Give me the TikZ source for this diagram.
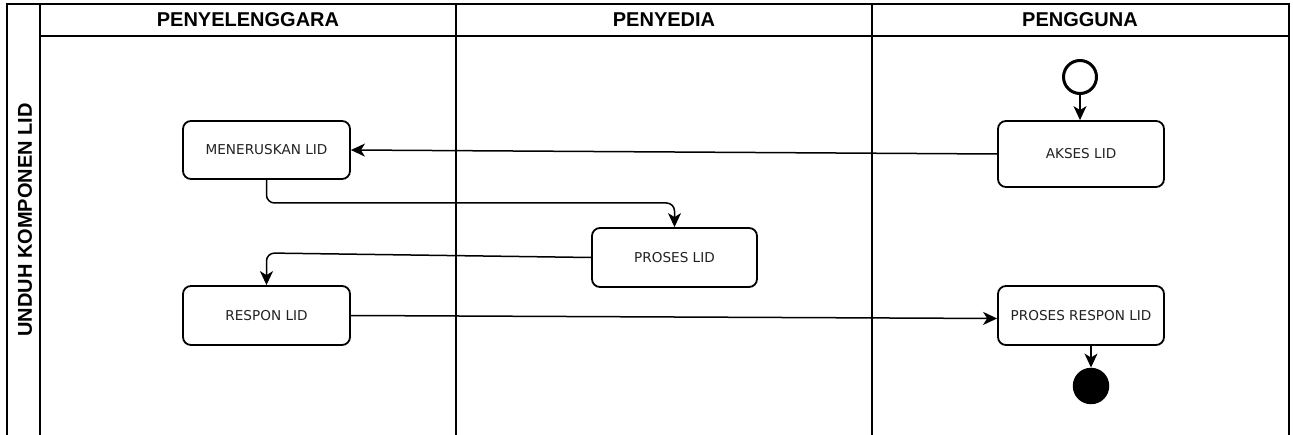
\documentclass[tikz,border=0pt]{standalone}
\usepackage{fontspec}
\setmainfont{Liberation Sans}
\newfontfamily\boxfont{DejaVu Sans}
\usetikzlibrary{arrows.meta}
\definecolor{boxtext}{HTML}{222222}
\begin{document}
\begin{tikzpicture}[x=1pt,y=-1pt,
  frame/.style={line width=2pt,black},
  lanehead/.style={font=\fontsize{20}{23}\selectfont\bfseries,inner sep=0pt},
  actbox/.style={draw,line width=1.8pt,rounded corners=8pt,fill=white,
    font=\boxfont\fontsize{13.6}{16}\selectfont,text=boxtext,inner sep=0pt},
  arr/.style={line width=1.5pt,-{Stealth[length=14pt,width=13pt,inset=4pt]}},
  startnode/.style={circle,draw,line width=3pt,minimum size=33pt,inner sep=0pt},
  endnode/.style={circle,fill=black,minimum size=36.5pt,inner sep=0pt}]
\useasboundingbox (0,0) rectangle (1293,435);
% frame
\draw[frame] (7,440) -- (7,4) -- (1289,4) -- (1289,440);
\draw[frame] (40,4) -- (40,440);
\draw[frame] (40,36) -- (1289,36);
\draw[frame] (456,4) -- (456,440);
\draw[frame] (872,4) -- (872,440);
% headers
\node[lanehead] (h1) at (248,20) {PENYELENGGARA};
\node[lanehead] (h2) at (664,20) {PENYEDIA};
\node[lanehead] (h3) at (1080,20) {PENGGUNA};
\node[lanehead,rotate=90] (pool) at (25,220) {UNDUH KOMPONEN LID};
% nodes
\node[actbox,minimum width=167pt,minimum height=58pt] (men) at (266.5,150) {MENERUSKAN LID};
\node[actbox,minimum width=167pt,minimum height=59pt] (resp) at (266.5,315.5) {RESPON LID};
\node[actbox,minimum width=165pt,minimum height=59pt] (proses) at (674.5,257.5) {PROSES LID};
\node[actbox,minimum width=166pt,minimum height=66pt] (akses) at (1081,154) {AKSES LID};
\node[actbox,minimum width=166pt,minimum height=59pt] (prores) at (1081,315.5) {PROSES RESPON LID};
\node[startnode] (start) at (1080,77) {};
\node[endnode] (end) at (1091,386) {};
\coordinate (y1) at (0,203);
\coordinate (y2) at (0,253);
% connectors
\draw[arr] (start.south) -- (akses.north -| start.south);
\draw[arr] (akses.west) -- (men.east);
\draw[arr,rounded corners=8pt] (men.south) -- (men.south |- y1) -- (proses.north |- y1) -- (proses.north);
\draw[arr,rounded corners=8pt] (proses.west) -- (resp.north |- y2) -- (resp.north);
\draw[arr] (resp.east) -- ([yshift=-3pt]prores.west);
\draw[arr] (end.north |- prores.south) -- (end.north);
\end{tikzpicture}
\end{document}
